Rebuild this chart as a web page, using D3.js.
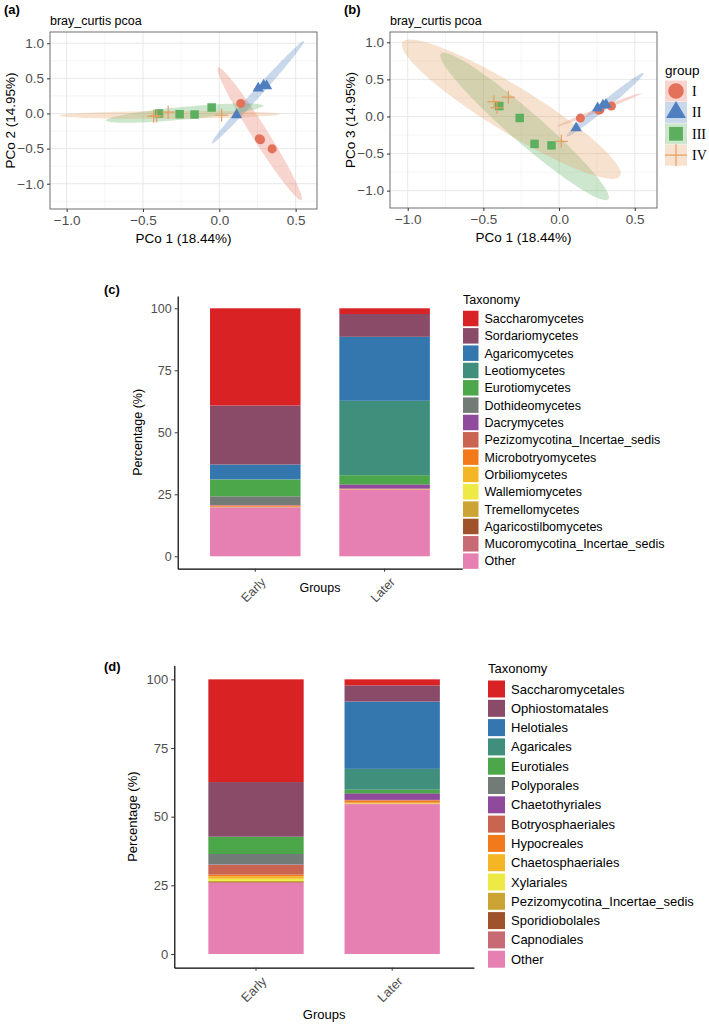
<!DOCTYPE html>
<html>
<head>
<meta charset="utf-8">
<script src="https://cdn.jsdelivr.net/npm/d3@7"></script>
<style>
body { margin: 0; background: #fff; }
text { font-family: "Liberation Sans", Arial, sans-serif; }
</style>
</head>
<body>
<svg id="chart" width="709" height="1026"></svg>
<script>
// ---------- PCoA data ----------
var groups = ["I", "II", "III", "IV"];
var groupColors = ["#E4715A", "#4F7FBF", "#5BAF5E", "#E3A062"];
var sampleGroup = ["I","I","I","I", "II","II","II","II", "III","III","III","III", "IV","IV","IV","IV"];
var pc1 = [0.141, 0.262, 0.27, 0.346,   0.113, 0.255, 0.29, 0.31,   -0.395, -0.26, -0.162, -0.05,   -0.43, -0.41, -0.335, 0.015];
var pc2 = [0.143, -0.36, -0.375, -0.504, -0.02, 0.36, 0.40, 0.39,    0.0, -0.01, -0.015, 0.085,      -0.04, -0.035, 0.02, -0.025];
var pc3 = [-0.022, 0.085, 0.09, 0.14,   -0.155, 0.115, 0.15, 0.16,   0.14, -0.02, -0.37, -0.39,      0.2, 0.12, 0.26, -0.335];

// ellipses: group, centre x, centre y, semi-axis dx, semi-axis dy, minor/major ratio
var ellipsesA = [
  ["I",   0.265, -0.29,  0.273, -0.943, 0.1],
  ["II",  0.252,  0.30,  0.302,  0.729, 0.06],
  ["III", -0.228, 0.005, 0.515,  0.105, 0.08],
  ["IV",  -0.326, -0.02, 0.722,  0.01,  0.035]
];
var ellipsesB = [
  ["I",   0.264, 0.09,   0.281,  0.225, 0.04],
  ["II",  0.304, 0.158,  0.255,  0.428, 0.08],
  ["III", -0.228, -0.134, 0.553, -0.982, 0.14],
  ["IV",  -0.316, 0.098, 0.719, -0.902, 0.18]
];
var pcoaXTicks = [-1, -0.5, 0, 0.5];
var pcoaYTicks = [-1, -0.5, 0, 0.5, 1];

// ---------- stacked bar data ----------
var stages = ["Early", "Later"];
var classTaxa = ["Saccharomycetes","Sordariomycetes","Agaricomycetes","Leotiomycetes","Eurotiomycetes",
  "Dothideomycetes","Dacrymycetes","Pezizomycotina_Incertae_sedis","Microbotryomycetes","Orbiliomycetes",
  "Wallemiomycetes","Tremellomycetes","Agaricostilbomycetes","Mucoromycotina_Incertae_sedis","Other"];
var classEarly = [39.2, 23.8, 5.9, 0.2, 6.7, 3.5, 0.1, 0.2, 0.4, 0.1, 0.05, 0.05, 0.02, 0.03, 19.75];
var classLater = [2.3, 9.2, 25.8, 30.0, 3.6, 0.3, 1.5, 0.1, 0.1, 0.05, 0.02, 0.05, 0.02, 0.06, 26.9];

var orderTaxa = ["Saccharomycetales","Ophiostomatales","Helotiales","Agaricales","Eurotiales",
  "Polyporales","Chaetothyriales","Botryosphaeriales","Hypocreales","Chaetosphaeriales",
  "Xylariales","Pezizomycotina_Incertae_sedis","Sporidiobolales","Capnodiales","Other"];
var orderEarly = [37.4, 19.9, 0.05, 0.05, 6.2, 3.8, 0.1, 3.6, 0.6, 0.9, 0.8, 0.4, 0.2, 0.1, 25.9];
var orderLater = [2.2, 5.9, 24.5, 7.6, 1.2, 0.3, 2.2, 0.2, 0.8, 0.3, 0.1, 0.05, 0.05, 0.1, 54.5];

var pctTicks = [0, 25, 50, 75, 100];
// Set1-style ramp, as it looks in the figure
var taxColors = ["#D92224","#8A4B69","#3476AE","#3F8F7C","#4CA64A","#737B76","#8F4A9C","#C8644F",
  "#F27A1A","#F4B624","#EEEA45","#CCA434","#9E532B","#C86A74","#E680B2"];

var svg = d3.select("#chart");
svg.append("rect").attr("width", 709).attr("height", 1026).attr("fill", "#fff");

function colorOf(g) { return groupColors[groups.indexOf(g)]; }

function drawMark(sel, g, size) {
  var c = colorOf(g);
  if (g == "IV") {
    var h = Math.sqrt(size) * 0.75;
    sel.append("path").attr("d", "M" + (-h) + ",0H" + h + "M0," + (-h) + "V" + h)
      .attr("stroke", c).attr("stroke-width", 1.2).attr("fill", "none");
  } else {
    var type = g == "I" ? d3.symbolCircle : g == "II" ? d3.symbolTriangle : d3.symbolSquare;
    sel.append("path").attr("d", d3.symbol().type(type).size(size)()).attr("fill", c);
  }
}

function ellipsePath(x, y, e) {
  var c = [x(e[1]), y(e[2])];
  var a = [x(e[1] + e[3]) - c[0], y(e[2] + e[4]) - c[1]];
  var b = [-a[1] * e[5], a[0] * e[5]];
  var pts = d3.range(0, 101).map(function(i) {
    var t = i / 100 * 2 * Math.PI;
    return [c[0] + Math.cos(t) * a[0] + Math.sin(t) * b[0], c[1] + Math.cos(t) * a[1] + Math.sin(t) * b[1]];
  });
  return d3.line()(pts) + "Z";
}

function pcoaPanel(o) {
  var x = d3.scaleLinear().domain(o.xdom).range([o.left, o.right]);
  var y = d3.scaleLinear().domain(o.ydom).range([o.bottom, o.top]);
  var g = svg.append("g");

  // grid: minor then major
  var xMinor = pcoaXTicks.map(function(d) { return d + 0.25; }).concat([-1.25]).filter(function(d) { return d > o.xdom[0] && d < o.xdom[1]; });
  var yMinor = pcoaYTicks.map(function(d) { return d + 0.25; }).concat([-1.25]).filter(function(d) { return d > o.ydom[0] && d < o.ydom[1]; });
  g.selectAll(".xmin").data(xMinor).enter().append("line")
    .attr("x1", x).attr("x2", x).attr("y1", o.top).attr("y2", o.bottom)
    .attr("stroke", "#EEEEEE").attr("stroke-width", 0.6);
  g.selectAll(".ymin").data(yMinor).enter().append("line")
    .attr("y1", y).attr("y2", y).attr("x1", o.left).attr("x2", o.right)
    .attr("stroke", "#EEEEEE").attr("stroke-width", 0.6);
  g.selectAll(".xmaj").data(pcoaXTicks).enter().append("line")
    .attr("x1", x).attr("x2", x).attr("y1", o.top).attr("y2", o.bottom)
    .attr("stroke", "#E8E8E8").attr("stroke-width", 1);
  g.selectAll(".ymaj").data(pcoaYTicks).enter().append("line")
    .attr("y1", y).attr("y2", y).attr("x1", o.left).attr("x2", o.right)
    .attr("stroke", "#E8E8E8").attr("stroke-width", 1);

  // ellipses
  g.selectAll(".ell").data(o.ellipses).enter().append("path")
    .attr("d", function(e) { return ellipsePath(x, y, e); })
    .attr("fill", function(e) { return colorOf(e[0]); })
    .attr("fill-opacity", 0.3);

  // points
  sampleGroup.forEach(function(gr, i) {
    var p = g.append("g").attr("transform", "translate(" + x(pc1[i]) + "," + y(o.yvals[i]) + ")");
    drawMark(p, gr, gr == "I" ? 64 : gr == "II" ? 55 : gr == "III" ? 72 : 75);
  });

  // border
  g.append("rect").attr("x", o.left).attr("y", o.top)
    .attr("width", o.right - o.left).attr("height", o.bottom - o.top)
    .attr("fill", "none").attr("stroke", "#6F6F6F").attr("stroke-width", 1);

  var fmt = d3.format(".1f");
  var xa = g.append("g").attr("transform", "translate(0," + o.bottom + ")")
    .call(d3.axisBottom(x).tickValues(pcoaXTicks).tickFormat(fmt).tickSize(3).tickPadding(3));
  var ya = g.append("g").attr("transform", "translate(" + o.left + ",0)")
    .call(d3.axisLeft(y).tickValues(pcoaYTicks).tickFormat(fmt).tickSize(3).tickPadding(3));
  [xa, ya].forEach(function(a) {
    a.select(".domain").remove();
    a.selectAll("line").attr("stroke", "#333");
    a.selectAll("text").attr("fill", "#4D4D4D").style("font-size", "13.5px");
  });

  g.append("text").attr("x", o.left).attr("y", o.top - 7).style("font-size", "12.5px").text("bray_curtis pcoa");
  g.append("text").attr("x", (o.left + o.right) / 2).attr("y", o.bottom + 34)
    .attr("text-anchor", "middle").style("font-size", "13.5px").text("PCo 1 (18.44%)");
  g.append("text").attr("transform", "translate(" + (o.left - 35) + "," + ((o.top + o.bottom) / 2) + ") rotate(-90)")
    .attr("text-anchor", "middle").style("font-size", "13.5px").text(o.ylabel);
  svg.append("text").attr("x", o.tagX).attr("y", 14).style("font-size", "13px")
    .style("font-weight", "bold").text(o.tag);
}

pcoaPanel({ left: 50, right: 317, top: 32, bottom: 209, xdom: [-1.109, 0.64], ydom: [-1.36, 1.16],
  yvals: pc2, ellipses: ellipsesA, ylabel: "PCo 2 (14.95%)", tag: "(a)", tagX: 4 });
pcoaPanel({ left: 390, right: 657, top: 32, bottom: 208, xdom: [-1.117, 0.647], ydom: [-1.234, 1.139],
  yvals: pc3, ellipses: ellipsesB, ylabel: "PCo 3 (14.95%)", tag: "(b)", tagX: 344 });

// group legend for (b)
var gl = svg.append("g");
gl.append("text").attr("x", 665).attr("y", 75).style("font-size", "13.5px").text("group");
groups.forEach(function(gr, i) {
  var cy = 91 + i * 21.4;
  var k = gl.append("g").attr("transform", "translate(676," + cy + ")");
  k.append("rect").attr("x", -11).attr("y", -10.5).attr("width", 22).attr("height", 21)
    .attr("fill", colorOf(gr)).attr("fill-opacity", 0.3);
  drawMark(k, gr, gr == "I" ? 190 : gr == "II" ? 170 : gr == "III" ? 190 : 215);
  gl.append("text").attr("x", 692).attr("y", cy + 5).style("font-family", "'Liberation Serif', 'DejaVu Serif', serif")
    .style("font-size", "14px").text(gr);
});

// ---------- stacked bars ----------
function barPanel(o) {
  var rows = stages.map(function(s, j) {
    var r = { stage: s };
    o.taxa.forEach(function(t, i) { r[t] = o.values[j][i]; });
    return r;
  });
  var keys = o.taxa.slice().reverse();          // "Other" at the bottom
  var series = d3.stack().keys(keys)(rows);
  var color = d3.scaleOrdinal().domain(o.taxa).range(taxColors);

  var x = d3.scaleBand().domain(stages).range([o.left, o.right]).paddingInner(0.3).paddingOuter(0.25);
  var y = d3.scaleLinear().domain([-5, 105]).range([o.bottom, o.top]);
  var g = svg.append("g");

  g.selectAll(".layer").data(series).enter().append("g")
    .attr("fill", function(d) { return color(d.key); })
    .selectAll("rect").data(function(d) { return d; }).enter().append("rect")
    .attr("x", function(d) { return x(d.data.stage); })
    .attr("width", x.bandwidth())
    .attr("y", function(d) { return y(d[1]); })
    .attr("height", function(d) { return Math.max(0, y(d[0]) - y(d[1])); });

  var ya = g.append("g").attr("transform", "translate(" + o.left + ",0)")
    .call(d3.axisLeft(y).tickValues(pctTicks).tickSize(3).tickPadding(3).tickSizeOuter(0));
  var xa = g.append("g").attr("transform", "translate(0," + o.bottom + ")")
    .call(d3.axisBottom(x).tickSize(3).tickSizeOuter(0).tickFormat(""));
  [xa, ya].forEach(function(a) {
    a.select(".domain").attr("stroke", "#000").attr("stroke-width", 1.2);
    a.selectAll(".tick line").attr("stroke", "#333");
  });
  ya.selectAll("text").attr("fill", "#4D4D4D").style("font-size", o.fs + "px");

  g.selectAll(".xl").data(stages).enter().append("text")
    .attr("transform", function(d) { return "translate(" + (x(d) + x.bandwidth() / 2 + 5) + "," + (o.bottom + 8) + ") rotate(-45)"; })
    .attr("text-anchor", "end").attr("dy", "0.7em")
    .attr("fill", "#4D4D4D").style("font-size", o.fs + "px").text(function(d) { return d; });

  g.append("text").attr("x", (o.left + o.right) / 2).attr("y", o.titleY)
    .attr("text-anchor", "middle").style("font-size", o.fs + "px").text("Groups");
  g.append("text").attr("transform", "translate(" + o.ylabX + "," + y(50) + ") rotate(-90)")
    .attr("text-anchor", "middle").style("font-size", o.fs + "px").text("Percentage (%)");
  svg.append("text").attr("x", o.tagX).attr("y", o.tagY).style("font-size", "13px")
    .style("font-weight", "bold").text(o.tag);

  // legend
  var lg = svg.append("g");
  lg.append("text").attr("x", o.legX).attr("y", o.legY - o.legStep + 3).style("font-size", o.fs + "px").text("Taxonomy");
  o.taxa.forEach(function(t, i) {
    var cy = o.legY + i * o.legStep;
    lg.append("rect").attr("x", o.legX).attr("y", cy - o.key / 2)
      .attr("width", o.key).attr("height", o.key).attr("fill", color(t));
    lg.append("text").attr("x", o.legX + o.key + 6).attr("y", cy).attr("dy", "0.35em")
      .style("font-size", o.fs + "px").text(t);
  });
}

barPanel({ taxa: classTaxa, values: [classEarly, classLater], left: 177.7, right: 462.2,
  top: 295.9, bottom: 568.7, fs: 12.5, titleY: 592, ylabX: 142, tag: "(c)", tagX: 104, tagY: 294,
  legX: 463, legY: 318.5, legStep: 17.33, key: 15.5 });
barPanel({ taxa: orderTaxa, values: [orderEarly, orderLater], left: 174.3, right: 473.9,
  top: 665.6, bottom: 967.7, fs: 13, titleY: 1019, ylabX: 137, tag: "(d)", tagX: 104, tagY: 671,
  legX: 488, legY: 689, legStep: 19.3, key: 17 });
</script>
</body>
</html>
